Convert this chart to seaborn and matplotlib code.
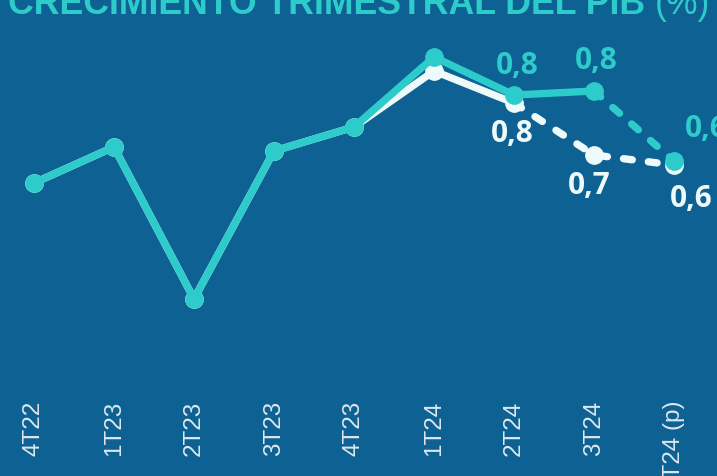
import matplotlib
matplotlib.use("Agg")
import matplotlib.pyplot as plt
import seaborn as sns
import pandas as pd
import numpy as np

# ---- data ----
quarters = ["4T22", "1T23", "2T23", "3T23", "4T23", "1T24", "2T24", "3T24", "4T24 (p)"]
teal_vals = [0.59, 0.68, 0.30, 0.67, 0.73, 0.905, 0.81, 0.82, 0.645]
white_vals = [0.59, 0.68, 0.30, 0.67, 0.73, 0.87, 0.79, 0.66, 0.635]
teal_dash_from = 7
white_dash_from = 6
teal_label_idx = [6, 7, 8]
white_label_idx = [6, 7, 8]
title_bold = "CRECIMIENTO TRIMESTRAL DEL PIB "
title_light = "(%)"

BG = "#0D6193"
TEAL = "#2ECBCB"
WHITE = "#EEF9FA"
TICK = "#DCE7EF"

sns.set_theme(style="white")
plt.rcParams["font.family"] = ["Liberation Sans", "DejaVu Sans"]

W, H = 717, 477
fig = plt.figure(figsize=(W / 100, H / 100), dpi=100, facecolor=BG)
ax = fig.add_axes([0, 0, 1, 1])
ax.set_facecolor(BG)

x = np.arange(len(quarters))
df_teal = pd.DataFrame({"x": x, "y": teal_vals})
df_white = pd.DataFrame({"x": x, "y": white_vals})

LW = 5.3
MS = 13.5
DASH = (0, (1.2, 2.2))


def draw(df, dash_from, color, z):
    solid = df.iloc[: dash_from + 1]
    dashed = df.iloc[dash_from:]
    sns.lineplot(data=solid, x="x", y="y", ax=ax, color=color, linewidth=LW,
                 solid_capstyle="round", solid_joinstyle="round", zorder=z)
    sns.lineplot(data=dashed, x="x", y="y", ax=ax, color=color, linewidth=LW,
                 linestyle=DASH, dash_capstyle="round", zorder=z)
    sns.scatterplot(data=df, x="x", y="y", ax=ax, color=color, s=MS ** 2,
                    linewidth=0, zorder=z + 0.5)


draw(df_white, white_dash_from, WHITE, 2)
draw(df_teal, teal_dash_from, TEAL, 3)

LBL = dict(fontsize=21.5, fontweight="bold", family=["Open Sans", "DejaVu Sans"],
           ha="center", va="center", textcoords="offset pixels", zorder=6)
teal_off = {6: (3, 30), 7: (2, 31), 8: (32, 33)}
white_off = {6: (-2, -30), 7: (-5, -30), 8: (17, -33)}
for i in teal_label_idx:
    v = teal_vals[i]
    ax.annotate(f"{v:.1f}".replace(".", ","), (x[i], v), xytext=teal_off[i], color=TEAL, **LBL)
for i in white_label_idx:
    v = white_vals[i]
    ax.annotate(f"{v:.1f}".replace(".", ","), (x[i], v), xytext=white_off[i], color=WHITE, **LBL)

ax.set_xlim(-34 / 80, (W - 34) / 80)
ax.set_ylim(0.66 - 321 / 400, 0.66 + 156 / 400)
ax.set_xticks(x)
ax.set_xticklabels(quarters, rotation=90, fontsize=17.5, color=TICK, va="top")
ax.tick_params(axis="x", length=0, pad=-55)
for lab in ax.get_xticklabels():
    lab.set_x(lab.get_position()[0])
ax.set_yticks([])
ax.set_xlabel("")
ax.set_ylabel("")
for s in ax.spines.values():
    s.set_visible(False)

TS = 25.7
t1 = fig.text(8 / W, 1 - 14 / H, title_bold, color=TEAL, fontsize=TS,
              fontweight="bold", va="baseline", ha="left")
fig.canvas.draw()
bb = t1.get_window_extent()
fig.text(bb.x1 / W, 1 - 14 / H, title_light, color=TEAL, fontsize=TS,
         va="baseline", ha="left")

fig.savefig("out.png", dpi=100, facecolor=BG)
